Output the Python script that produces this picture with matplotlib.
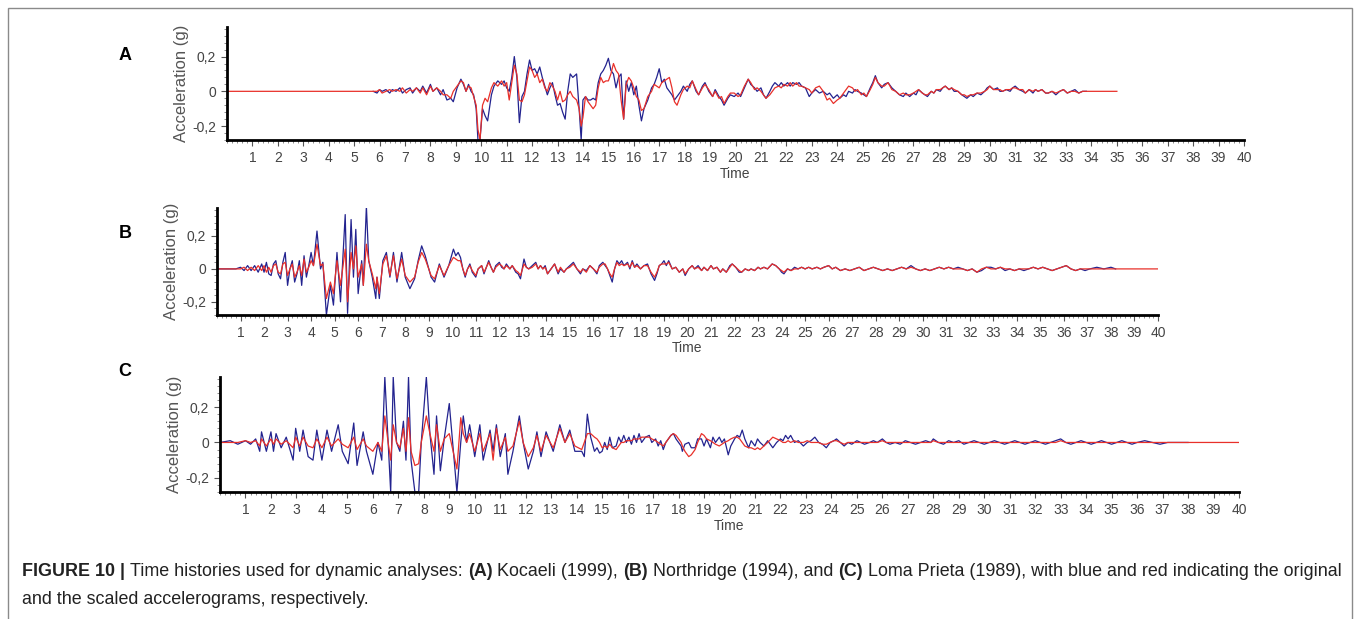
import numpy as np
import matplotlib
matplotlib.use("Agg")
import matplotlib.pyplot as plt
from matplotlib.ticker import MultipleLocator, FixedLocator, FuncFormatter
from matplotlib.patches import Rectangle

nan = np.nan

# ---- values: time (s), acceleration (g) ----
# blue = original record, red = scaled record; nan where the record has ended

# (A) Kocaeli 1999
t_a = [0, 5.75, 5.9, 6.0, 6.1, 6.25, 6.4, 6.5, 6.65, 6.8,
       6.9, 7.05, 7.2, 7.3, 7.45, 7.6, 7.7, 7.85, 8.0, 8.1,
       8.25, 8.4, 8.5, 8.65, 8.8, 8.9, 9.05, 9.2, 9.3, 9.4,
       9.5, 9.6, 9.7, 9.8, 9.87, 9.95, 10.05, 10.15, 10.25, 10.4,
       10.5, 10.65, 10.8, 10.9, 11.0, 11.1, 11.2, 11.3, 11.4, 11.5,
       11.6, 11.7, 11.8, 11.9, 12.0, 12.1, 12.2, 12.3, 12.4, 12.5,
       12.6, 12.7, 12.8, 12.9, 13.0, 13.1, 13.2, 13.3, 13.4, 13.5,
       13.6, 13.75, 13.85, 13.93, 14.0, 14.1, 14.2, 14.3, 14.4, 14.5,
       14.6, 14.7, 14.8, 14.9, 15.0, 15.1, 15.2, 15.3, 15.4, 15.5,
       15.6, 15.7, 15.8, 15.9, 16.0, 16.1, 16.2, 16.3, 16.4, 16.55,
       16.7, 16.8, 16.9, 17.0, 17.1, 17.2, 17.3, 17.4, 17.5, 17.6,
       17.7, 17.85, 17.95, 18.1, 18.2, 18.3, 18.45, 18.55, 18.7, 18.8,
       18.95, 19.1, 19.2, 19.35, 19.45, 19.55, 19.7, 19.8, 19.95, 20.1,
       20.2, 20.35, 20.5, 20.6, 20.75, 20.85, 21.0, 21.1, 21.2, 21.35,
       21.45, 21.55, 21.7, 21.8, 21.9, 22.05, 22.15, 22.25, 22.4, 22.5,
       22.6, 22.75, 22.9, 23.0, 23.15, 23.3, 23.45, 23.6, 23.7, 23.85,
       24.0, 24.1, 24.25, 24.35, 24.45, 24.6, 24.7, 24.8, 24.95, 25.05,
       25.15, 25.3, 25.4, 25.5, 25.6, 25.75, 25.85, 26.0, 26.15, 26.3,
       26.45, 26.6, 26.7, 26.85, 27.0, 27.1, 27.2, 27.35, 27.45, 27.55,
       27.7, 27.8, 27.9, 28.05, 28.15, 28.25, 28.4, 28.5, 28.6, 28.75,
       28.9, 29.0, 29.1, 29.25, 29.35, 29.5, 29.65, 29.8, 29.9, 30.0,
       30.15, 30.3, 30.4, 30.5, 30.65, 30.8, 30.9, 31.0, 31.15, 31.3,
       31.4, 31.55, 31.7, 31.8, 31.9, 32.05, 32.2, 32.3, 32.45, 32.6,
       32.75, 32.9, 33.05, 33.2, 33.35, 33.5, 33.65, 33.8, 35.0]
blue_a = [nan, 0, -0.01, 0.01, 0.0, 0.01, -0.01, 0.01, 0.0, 0.02,
          -0.01, 0.01, 0.02, -0.01, 0.02, 0.0, 0.03, -0.01, 0.04, 0.0,
          0.02, -0.02, 0.01, -0.05, -0.04, -0.06, 0.02, 0.07, 0.04, 0.0,
          0.04, 0.0, -0.02, -0.10, -0.28, -0.28, -0.10, -0.14, -0.17, -0.02,
          0.03, 0.06, 0.04, 0.06, 0.02, 0.0, 0.08, 0.20, 0.08, -0.18,
          -0.03, 0.0, 0.10, 0.18, 0.12, 0.13, 0.10, 0.14, 0.08, 0.03,
          -0.02, 0.02, 0.05, -0.02, -0.08, -0.07, -0.12, -0.16, 0.0, 0.10,
          0.08, 0.10, -0.10, -0.28, -0.05, -0.03, -0.05, -0.05, -0.04, -0.05,
          0.05, 0.10, 0.12, 0.15, 0.19, 0.12, 0.10, 0.02, 0.08, 0.10,
          -0.16, 0.06, 0.0, 0.05, -0.02, 0.03, -0.08, -0.17, -0.10, -0.05,
          0.02, 0.04, 0.08, 0.13, 0.05, 0.07, 0.02, 0.0, -0.02, -0.05,
          -0.03, 0.0, 0.03, 0.0, 0.04, 0.06, 0.0, -0.02, 0.03, 0.05,
          0.0, -0.03, 0.01, -0.03, -0.05, -0.08, -0.04, -0.02, -0.03, -0.01,
          -0.03, 0.02, 0.07, 0.04, 0.02, 0.0, 0.02, -0.02, -0.04, 0.0,
          0.03, 0.05, 0.03, 0.05, 0.03, 0.05, 0.03, 0.05, 0.04, 0.05,
          0.03, 0.02, -0.03, -0.01, 0.01, -0.01, 0.0, -0.02, -0.01, -0.04,
          -0.02, -0.04, -0.02, -0.03, 0.0, -0.01, 0.01, 0.0, -0.01, -0.02,
          -0.03, 0.02, 0.05, 0.09, 0.05, 0.02, 0.04, 0.05, 0.02, 0.0,
          -0.02, -0.03, -0.01, -0.03, -0.01, -0.02, 0.01, -0.01, -0.02, -0.03,
          0.0, -0.01, 0.01, 0.0, 0.02, 0.03, 0.01, 0.02, 0.0, 0.0,
          -0.02, -0.03, -0.04, -0.02, -0.03, -0.01, -0.02, 0.0, 0.02, 0.03,
          0.01, 0.02, 0.0, 0.0, 0.01, 0.0, 0.02, 0.03, 0.01, 0.0,
          -0.01, 0.01, -0.01, 0.01, 0.0, 0.01, -0.01, -0.01, 0.0, -0.02,
          0.0, 0.01, -0.01, 0.0, 0.01, -0.01, 0.0, 0.0, nan]
red_a = [0, 0, 0.0, 0.01, -0.01, 0.0, 0.01, 0.0, 0.01, 0.0,
         0.02, -0.01, 0.01, 0.0, 0.02, -0.01, 0.02, -0.02, 0.03, 0.0,
         0.02, 0.0, -0.02, -0.02, -0.04, 0.0, 0.03, 0.06, 0.05, 0.0,
         0.03, 0.02, -0.03, -0.08, -0.22, -0.28, -0.08, -0.04, -0.06, 0.02,
         0.05, 0.03, 0.06, 0.03, 0.05, -0.05, 0.05, 0.15, 0.10, -0.05,
         -0.06, -0.02, 0.06, 0.14, 0.12, 0.08, 0.10, 0.05, 0.07, 0.02,
         0.0, 0.05, 0.03, 0.0, -0.05, 0.0, -0.06, -0.05, -0.02, 0.0,
         -0.03, -0.05, -0.10, -0.20, -0.15, -0.03, -0.06, -0.08, -0.10, -0.08,
         0.02, 0.08, 0.05, 0.06, 0.06, 0.10, 0.16, 0.12, 0.10, -0.05,
         -0.16, 0.04, 0.08, 0.06, 0.02, -0.03, -0.05, -0.11, -0.10, -0.03,
         0.0, 0.04, 0.03, 0.02, 0.05, 0.06, 0.07, 0.08, 0.02, -0.06,
         -0.08, -0.02, 0.01, 0.03, 0.02, 0.06, 0.01, -0.02, 0.02, 0.04,
         0.01, -0.03, 0.0, -0.04, -0.03, -0.07, -0.03, -0.01, -0.01, -0.03,
         -0.02, 0.03, 0.07, 0.05, 0.01, 0.02, 0.0, -0.02, -0.04, -0.02,
         0.0, 0.02, 0.03, 0.02, 0.04, 0.03, 0.05, 0.03, 0.05, 0.03,
         0.03, 0.02, 0.01, -0.01, 0.02, 0.03, 0.0, -0.05, -0.04, -0.07,
         -0.05, -0.04, -0.01, 0.01, 0.03, 0.02, 0.0, 0.01, -0.02, -0.01,
         -0.03, 0.01, 0.04, 0.08, 0.05, 0.03, 0.03, 0.05, 0.01, 0.0,
         -0.02, -0.01, -0.02, -0.02, -0.01, 0.0, 0.01, -0.01, -0.02, -0.02,
         0.0, -0.01, 0.01, 0.01, 0.02, 0.03, 0.01, 0.02, 0.01, 0.0,
         -0.02, -0.02, -0.03, -0.02, -0.02, -0.01, -0.01, 0.0, 0.01, 0.03,
         0.01, 0.01, 0.01, 0.0, 0.01, 0.01, 0.02, 0.02, 0.01, 0.01,
         -0.01, 0.01, 0.0, 0.01, 0.0, 0.01, -0.01, -0.01, 0.0, -0.01,
         0.0, 0.01, -0.01, 0.0, 0.0, -0.01, 0.0, 0.0, 0.0]

# (B) Northridge 1994
t_b = [0, 0.8, 1.0, 1.15, 1.3, 1.45, 1.6, 1.75, 1.9, 2.0,
       2.1, 2.2, 2.3, 2.4, 2.5, 2.6, 2.7, 2.8, 2.9, 3.0,
       3.1, 3.2, 3.3, 3.4, 3.5, 3.6, 3.7, 3.8, 3.9, 4.0,
       4.1, 4.25, 4.4, 4.5, 4.65, 4.82, 4.95, 5.1, 5.25, 5.45,
       5.55, 5.7, 5.8, 5.9, 6.0, 6.15, 6.22, 6.35, 6.45, 6.6,
       6.75, 6.8, 6.9, 7.05, 7.2, 7.35, 7.5, 7.65, 7.85, 8.0,
       8.2, 8.4, 8.55, 8.7, 8.85, 9.1, 9.25, 9.45, 9.65, 9.85,
       10.05, 10.15, 10.25, 10.35, 10.45, 10.55, 10.65, 10.75, 10.85, 11.0,
       11.1, 11.25, 11.35, 11.45, 11.55, 11.65, 11.75, 11.85, 12.0, 12.1,
       12.2, 12.3, 12.45, 12.55, 12.7, 12.8, 12.9, 13.05, 13.15, 13.25,
       13.4, 13.55, 13.65, 13.75, 13.85, 13.95, 14.05, 14.2, 14.35, 14.5,
       14.6, 14.75, 14.85, 15.0, 15.15, 15.3, 15.45, 15.55, 15.7, 15.85,
       16.0, 16.15, 16.25, 16.4, 16.5, 16.6, 16.7, 16.8, 16.9, 17.0,
       17.1, 17.2, 17.3, 17.45, 17.55, 17.65, 17.75, 17.85, 18.0, 18.15,
       18.3, 18.45, 18.6, 18.7, 18.8, 18.9, 19.0, 19.1, 19.2, 19.35,
       19.5, 19.65, 19.8, 19.9, 20.05, 20.2, 20.3, 20.45, 20.6, 20.7,
       20.85, 21.0, 21.1, 21.25, 21.4, 21.5, 21.65, 21.8, 21.9, 22.05,
       22.2, 22.3, 22.45, 22.6, 22.7, 22.85, 23.0, 23.1, 23.25, 23.4,
       23.6, 23.75, 23.9, 24.0, 24.1, 24.25, 24.4, 24.55, 24.7, 24.85,
       25.0, 25.15, 25.3, 25.5, 25.65, 25.8, 26.0, 26.15, 26.3, 26.5,
       26.7, 26.9, 27.1, 27.3, 27.5, 27.7, 27.9, 28.1, 28.3, 28.5,
       28.7, 28.9, 29.1, 29.3, 29.5, 29.7, 29.9, 30.1, 30.3, 30.5,
       30.7, 30.9, 31.1, 31.3, 31.5, 31.7, 31.9, 32.1, 32.3, 32.5,
       32.7, 32.9, 33.1, 33.3, 33.5, 33.7, 33.9, 34.1, 34.3, 34.5,
       34.7, 34.9, 35.1, 35.3, 35.5, 35.7, 35.9, 36.1, 36.3, 36.5,
       36.7, 36.9, 37.1, 37.4, 37.7, 38.0, 38.2, 40.0]
blue_b = [0, 0, 0.01, -0.01, 0.02, -0.01, 0.02, -0.02, 0.03, -0.02,
          0.04, -0.03, -0.04, 0.03, 0.05, -0.03, -0.06, 0.04, 0.10, -0.10,
          0.0, 0.05, -0.08, -0.03, 0.05, -0.10, 0.08, -0.05, 0.02, 0.10,
          0.02, 0.23, 0.0, 0.04, -0.28, -0.10, -0.22, 0.10, -0.20, 0.33,
          -0.27, 0.30, -0.05, 0.24, -0.15, 0.05, -0.10, 0.38, 0.05, -0.05,
          -0.18, -0.05, -0.18, 0.05, 0.10, -0.05, 0.10, -0.08, 0.10, -0.05,
          -0.12, -0.06, 0.05, 0.14, 0.08, -0.05, -0.08, 0.03, -0.05, 0.02,
          0.12, 0.08, 0.10, 0.07, 0.0, -0.05, 0.0, 0.03, -0.02, -0.05,
          0.0, 0.02, -0.03, 0.01, 0.05, 0.01, -0.02, 0.02, 0.04, 0.01,
          0.0, 0.03, 0.0, 0.02, -0.02, -0.03, -0.06, 0.06, 0.01, 0.0,
          0.02, 0.04, 0.0, 0.02, 0.0, 0.02, -0.03, 0.0, 0.03, -0.03,
          0.0, -0.02, 0.0, 0.02, 0.04, 0.0, -0.03, 0.0, -0.01, 0.02,
          0.0, -0.03, 0.02, 0.04, 0.02, 0.0, -0.04, -0.08, 0.0, 0.05,
          0.03, 0.05, 0.02, 0.04, 0.0, 0.05, 0.01, 0.03, 0.0, 0.02,
          0.03, -0.03, -0.07, -0.03, 0.02, 0.03, 0.05, 0.02, 0.05, 0.0,
          0.01, -0.02, 0.0, -0.04, 0.0, 0.02, 0.0, 0.02, -0.01, 0.01,
          -0.01, 0.02, 0.0, 0.01, -0.02, 0.0, -0.02, 0.02, 0.03, 0.01,
          -0.02, -0.02, 0.0, -0.01, 0.0, -0.01, 0.01, 0.0, 0.01, 0.0,
          0.03, 0.02, 0.0, -0.02, -0.03, 0.0, -0.01, 0.01, 0.0, 0.01,
          0.0, 0.01, 0.0, 0.01, 0.0, 0.01, 0.02, 0.0, 0.01, -0.01,
          0.0, -0.01, 0.0, 0.01, -0.01, 0.0, 0.01, 0.0, -0.01, 0.0,
          -0.01, 0.0, 0.01, 0.0, 0.02, 0.0, -0.01, 0.0, -0.01, 0.0,
          0.01, 0.0, 0.01, 0.0, 0.01, 0.0, -0.01, 0.0, -0.02, -0.01,
          0.01, 0.01, 0.0, 0.01, -0.01, 0.0, -0.01, 0.0, -0.01, 0.0,
          0.01, 0.0, 0.01, 0.0, -0.01, 0.0, 0.01, 0.02, 0.0, -0.01,
          0.0, -0.01, 0.0, 0.01, 0.0, 0.01, 0.0, nan]
red_b = [0, 0, 0.0, 0.01, -0.01, 0.01, -0.01, 0.02, -0.01, 0.02,
         -0.02, 0.01, -0.02, 0.02, 0.03, -0.02, -0.03, 0.03, 0.04, -0.04,
         0.0, 0.03, -0.05, -0.02, 0.02, -0.04, 0.06, -0.02, 0.01, 0.05,
         0.02, 0.15, 0.02, 0.03, -0.18, -0.08, -0.15, 0.05, -0.10, 0.12,
         -0.20, 0.10, 0.0, 0.14, -0.05, 0.03, -0.10, 0.15, 0.05, -0.03,
         -0.12, -0.05, -0.15, 0.03, 0.08, -0.04, 0.08, -0.06, 0.06, -0.04,
         -0.08, -0.05, 0.04, 0.10, 0.06, -0.04, -0.06, 0.02, -0.04, 0.02,
         0.07, 0.06, 0.05, 0.05, 0.0, -0.04, 0.0, 0.02, -0.01, -0.04,
         0.0, 0.02, -0.02, 0.01, 0.04, 0.01, -0.02, 0.01, 0.03, 0.02,
         0.0, 0.02, 0.0, 0.02, -0.01, -0.02, -0.04, 0.03, 0.01, 0.0,
         0.01, 0.03, 0.0, 0.02, 0.0, 0.01, -0.03, 0.0, 0.03, -0.02,
         0.01, -0.02, 0.0, 0.01, 0.03, 0.0, -0.02, 0.0, -0.02, 0.02,
         0.0, -0.02, 0.01, 0.03, 0.03, 0.0, -0.03, -0.05, 0.0, 0.04,
         0.02, 0.03, 0.02, 0.03, 0.01, 0.04, 0.01, 0.02, 0.0, 0.02,
         0.02, -0.02, -0.05, -0.02, 0.02, 0.03, 0.03, 0.03, 0.04, 0.0,
         0.01, -0.02, 0.0, -0.03, 0.0, 0.02, 0.0, 0.01, -0.01, 0.01,
         -0.01, 0.02, 0.0, 0.01, -0.02, 0.0, -0.02, 0.01, 0.03, 0.01,
         -0.01, -0.02, 0.0, -0.01, 0.0, -0.01, 0.01, 0.0, 0.01, 0.0,
         0.03, 0.02, 0.0, -0.01, -0.02, 0.0, -0.01, 0.0, 0.0, 0.01,
         0.0, 0.01, 0.0, 0.01, 0.0, 0.01, 0.02, 0.0, 0.01, -0.01,
         0.0, -0.01, 0.0, 0.01, -0.01, 0.0, 0.01, 0.0, -0.01, 0.0,
         -0.01, 0.0, 0.01, 0.0, 0.01, 0.0, -0.01, 0.0, -0.01, 0.0,
         0.01, 0.0, 0.01, 0.0, 0.0, 0.0, -0.01, 0.0, -0.02, 0.0,
         0.01, 0.0, 0.0, 0.01, 0.0, 0.0, -0.01, 0.0, 0.0, 0.0,
         0.01, 0.0, 0.01, 0.0, -0.01, 0.0, 0.01, 0.02, 0.0, -0.01,
         0.0, 0.0, 0.0, 0.0, 0.0, 0.0, 0.0, 0.0]

# (C) Loma Prieta 1989
t_c = [0, 0.4, 0.7, 1.0, 1.2, 1.4, 1.56, 1.63, 1.82, 2.0,
       2.1, 2.2, 2.4, 2.6, 2.87, 2.97, 3.13, 3.26, 3.46, 3.65,
       3.8, 4.0, 4.2, 4.38, 4.64, 4.8, 5.03, 5.25, 5.38, 5.62,
       5.75, 6.0, 6.2, 6.35, 6.47, 6.6, 6.7, 6.8, 6.93, 7.06,
       7.2, 7.3, 7.4, 7.5, 7.65, 7.8, 7.9, 8.1, 8.24, 8.4,
       8.5, 8.65, 8.8, 9.0, 9.3, 9.45, 9.55, 9.68, 9.8, 10.0,
       10.2, 10.33, 10.6, 10.72, 10.85, 11.0, 11.2, 11.3, 11.5, 11.75,
       11.9, 12.1, 12.3, 12.44, 12.6, 12.8, 13.08, 13.34, 13.54, 13.73,
       13.93, 14.2, 14.3, 14.42, 14.55,
       14.7, 14.8, 14.9, 15.0, 15.1, 15.2, 15.3, 15.4, 15.55, 15.65,
       15.75, 15.85, 15.95, 16.05, 16.15, 16.25, 16.35, 16.45, 16.55, 16.7,
       16.85, 16.95, 17.1, 17.2, 17.3, 17.4, 17.5, 17.6, 17.7, 17.8,
       17.9, 18.0, 18.1, 18.15, 18.25, 18.4, 18.5, 18.65, 18.75, 18.9,
       19.0, 19.1, 19.25, 19.35, 19.45, 19.6, 19.7, 19.8, 19.95, 20.05,
       20.2, 20.3, 20.4, 20.5, 20.6, 20.75, 20.85, 21.0, 21.1, 21.2,
       21.35, 21.5, 21.7, 21.85, 22.0, 22.1, 22.2, 22.3, 22.4, 22.55,
       22.7, 22.9, 23.05, 23.2, 23.35, 23.5, 23.65, 23.8, 23.95, 24.1,
       24.2, 24.35, 24.5, 24.65, 24.8, 25.0, 25.15, 25.3, 25.5, 25.65,
       25.8, 26.0, 26.15, 26.3, 26.5, 26.7, 26.9, 27.1, 27.3, 27.5,
       27.7, 27.9, 28.0, 28.2, 28.4, 28.6, 28.8, 29.0, 29.2, 29.4,
       29.6, 29.8, 30.0, 30.2, 30.4, 30.6, 30.8, 31.0, 31.2, 31.4,
       31.6, 31.8, 32.0, 32.2, 32.4, 32.6, 32.8, 33.0, 33.2, 33.4,
       33.6, 33.8, 34.0, 34.2, 34.4, 34.6, 34.8, 35.0, 35.2, 35.4,
       35.6, 35.8, 36.0, 36.3, 36.6, 36.9, 37.2, 37.6, 38.0, 40.0]
blue_c = [0, 0.01, -0.01, 0.01, -0.01, 0.02, -0.05, 0.06, -0.05, 0.06,
          -0.05, 0.05, -0.03, 0.03, -0.10, 0.08, -0.05, 0.07, -0.08, -0.10,
          0.07, -0.10, 0.07, -0.05, 0.10, -0.05, -0.12, 0.11, -0.13, 0.06,
          -0.05, -0.18, 0.0, -0.10, 0.37, 0.0, -0.28, 0.37, 0.0, -0.05,
          0.12, -0.10, 0.37, -0.10, -0.28, -0.28, 0.0, 0.37, 0.05, -0.18,
          0.15, -0.16, 0.02, 0.22, -0.28, 0.0, 0.15, 0.0, 0.10, -0.08,
          0.10, -0.10, 0.07, -0.05, 0.10, -0.08, 0.05, -0.18, -0.05, 0.15,
          0.0, -0.15, -0.05, 0.06, -0.08, 0.06, -0.05, 0.10, 0.0, 0.07,
          -0.05, -0.05, -0.08, 0.16, 0.03,
          -0.05, -0.03, -0.06, -0.05, 0.0, -0.04, 0.03, -0.03, -0.02, 0.03,
          0.0, 0.04, 0.0, 0.03, -0.01, 0.04, 0.0, 0.05, 0.0, 0.03,
          0.04, 0.0, 0.02, -0.02, 0.01, -0.04, 0.0, 0.02, 0.04, 0.05,
          0.02, 0.0, -0.02, -0.05, -0.01, 0.0, -0.03, -0.03, 0.02, 0.02,
          -0.02, 0.02, -0.03, 0.03, 0.0, 0.03, 0.0, 0.02, -0.07, -0.02,
          0.02, 0.04, 0.03, 0.07, 0.02, -0.03, 0.01, -0.02, 0.02, 0.0,
          -0.02, 0.01, -0.03, 0.0, 0.02, 0.01, 0.04, 0.02, 0.04, 0.0,
          0.01, -0.02, 0.0, 0.01, 0.03, 0.0, -0.01, -0.03, 0.0, 0.01,
          0.02, 0.0, -0.02, 0.0, -0.01, 0.01, 0.0, -0.01, 0.0, 0.01,
          0.0, 0.02, 0.0, -0.01, 0.0, -0.01, 0.01, 0.0, -0.01, 0.0,
          0.01, 0.0, 0.02, 0.0, -0.01, 0.01, 0.0, 0.01, -0.01, 0.0,
          0.01, 0.0, -0.01, 0.0, 0.01, 0.0, -0.01, 0.0, 0.01, 0.0,
          -0.01, 0.0, 0.01, 0.0, -0.01, 0.0, 0.01, 0.02, 0.0, -0.01,
          0.0, 0.01, 0.0, -0.01, 0.0, 0.01, 0.0, -0.01, 0.0, 0.01,
          0.0, -0.01, 0.0, 0.01, 0.0, -0.01, 0.0, 0.0, 0.0, nan]
red_c = [0, 0.0, 0.0, 0.01, 0.0, 0.01, -0.02, 0.02, -0.02, 0.02,
         -0.01, 0.02, -0.01, 0.01, -0.03, 0.03, -0.02, 0.03, -0.02, -0.03,
         0.02, -0.03, 0.03, -0.02, 0.02, -0.01, -0.03, 0.03, -0.04, 0.02,
         -0.02, -0.05, 0.0, -0.05, 0.15, 0.0, -0.10, 0.10, 0.0, -0.03,
         0.08, -0.05, 0.14, -0.05, -0.13, -0.12, 0.0, 0.15, 0.05, -0.05,
         0.10, -0.05, 0.02, 0.05, -0.15, 0.14, 0.05, 0.0, 0.05, -0.05,
         0.05, -0.05, 0.05, -0.10, 0.08, -0.04, 0.03, -0.05, -0.02, 0.12,
         0.0, -0.08, -0.03, 0.04, -0.05, 0.04, -0.03, 0.08, 0.0, 0.05,
         -0.02, -0.04, 0.0, 0.05, 0.05,
         0.03, 0.02, 0.0, -0.03, -0.02, -0.03, -0.01, -0.03, -0.04, -0.02,
         0.0, 0.0, 0.01, 0.01, 0.01, 0.02, 0.02, 0.02, 0.03, 0.03,
         0.03, 0.02, 0.01, 0.0, -0.01, -0.02, 0.0, 0.02, 0.04, 0.05,
         0.04, 0.02, 0.0, -0.02, -0.05, -0.08, -0.07, -0.04, 0.0, 0.05,
         0.04, 0.02, 0.01, 0.0, -0.01, -0.02, -0.01, 0.0, 0.01, 0.02,
         0.03, 0.03, 0.02, 0.0, -0.02, -0.03, -0.03, -0.04, -0.03, -0.04,
         -0.02, 0.0, 0.03, 0.02, 0.01, 0.0, 0.0, 0.01, 0.0, 0.01,
         0.0, 0.0, 0.01, 0.0, 0.0, 0.0, -0.01, -0.01, 0.0, 0.01,
         0.01, 0.0, -0.01, 0.0, 0.0, 0.0, 0.0, 0.0, 0.0, 0.0,
         0.0, 0.01, 0.0, 0.0, 0.0, 0.0, 0.0, 0.0, 0.0, 0.0,
         0.0, 0.0, 0.01, 0.0, 0.0, 0.0, 0.0, 0.0, 0.0, 0.0,
         0.0, 0.0, 0.0, 0.0, 0.0, 0.0, 0.0, 0.0, 0.0, 0.0,
         0.0, 0.0, 0.0, 0.0, 0.0, 0.0, 0.0, 0.01, 0.0, 0.0,
         0.0, 0.0, 0.0, 0.0, 0.0, 0.0, 0.0, 0.0, 0.0, 0.0,
         0.0, 0.0, 0.0, 0.0, 0.0, 0.0, 0.0, 0.0, 0.0, 0.0]

# panel letter, data, axes box in pixels [left, top, right, bottom], letter y
PANELS = [
    ("A", t_a, blue_a, red_a, [227, 27, 1244, 140], 56),
    ("B", t_b, blue_b, red_b, [217, 208, 1158, 315], 233),
    ("C", t_c, blue_c, red_c, [220, 377, 1239, 492], 372),
]

W, H = 1360, 619
BLUE = "#23238f"
RED = "#e8302a"
FONTE = "Liberation Sans"

fig = plt.figure(figsize=(W / 100, H / 100), dpi=100)

# grey frame round the whole figure
fig.patches.append(Rectangle((8 / W, -0.05), (1352 - 8) / W, 1 - 8 / H + 0.05,
                             transform=fig.transFigure, fill=False,
                             edgecolor="#8a8a8a", linewidth=1.0))

for letra, t, azul, verm, (x0, y0, x1, y1), ly in PANELS:
    ax = fig.add_axes([x0 / W, 1 - y1 / H, (x1 - x0) / W, (y1 - y0) / H])
    ax.plot(t, azul, color=BLUE, linewidth=0.9)
    ax.plot(t, verm, color=RED, linewidth=0.9)
    ax.set_xlim(0, 40)
    ax.set_ylim(-0.28, 0.37)
    for s in ("top", "right"):
        ax.spines[s].set_visible(False)
    for s in ("left", "bottom"):
        ax.spines[s].set_linewidth(2.0)
    ax.xaxis.set_major_locator(FixedLocator(range(1, 41)))
    ax.xaxis.set_minor_locator(MultipleLocator(0.2))
    ax.yaxis.set_major_locator(FixedLocator([-0.2, 0, 0.2]))
    ax.yaxis.set_minor_locator(MultipleLocator(0.04))
    ax.yaxis.set_major_formatter(FuncFormatter(lambda v, p: f"{v:g}".replace(".", ",")))
    ax.tick_params(which="major", length=4, width=0.8, color="#555555",
                   labelsize=10, labelcolor="#444444", pad=4)
    ax.tick_params(which="minor", length=2, width=0.6, color="#777777")
    for lbl in ax.get_xticklabels() + ax.get_yticklabels():
        lbl.set_family(FONTE)
    ax.set_xlabel("Time", family=FONTE, fontsize=10, color="#444444", labelpad=1)
    ax.set_ylabel("Acceleration (g)", family=FONTE, fontsize=12, color="#555555",
                  labelpad=2)
    fig.text(125 / W, 1 - ly / H, letra, fontsize=13, fontweight="bold",
             family=FONTE, ha="center", va="center")

# caption, with bold pieces placed one after the other
linhas = [
    [("FIGURE 10 | ", True), ("Time histories used for dynamic analyses: ", False),
     ("(A)", True), (" Kocaeli (1999), ", False), ("(B)", True),
     (" Northridge (1994), and ", False), ("(C)", True),
     (" Loma Prieta (1989), with blue and red indicating the original", False)],
    [("and the scaled accelerograms, respectively.", False)],
]
fig.canvas.draw()
rend = fig.canvas.get_renderer()
for linha, ybase in zip(linhas, [576, 604]):
    x = 22
    for txt, negrito in linha:
        tt = fig.text(x / W, 1 - ybase / H, txt, fontsize=12.9, family=FONTE,
                      fontweight="bold" if negrito else "normal", color="#222222",
                      ha="left", va="baseline")
        x += tt.get_window_extent(rend).width

fig.savefig("out.png", dpi=100)
